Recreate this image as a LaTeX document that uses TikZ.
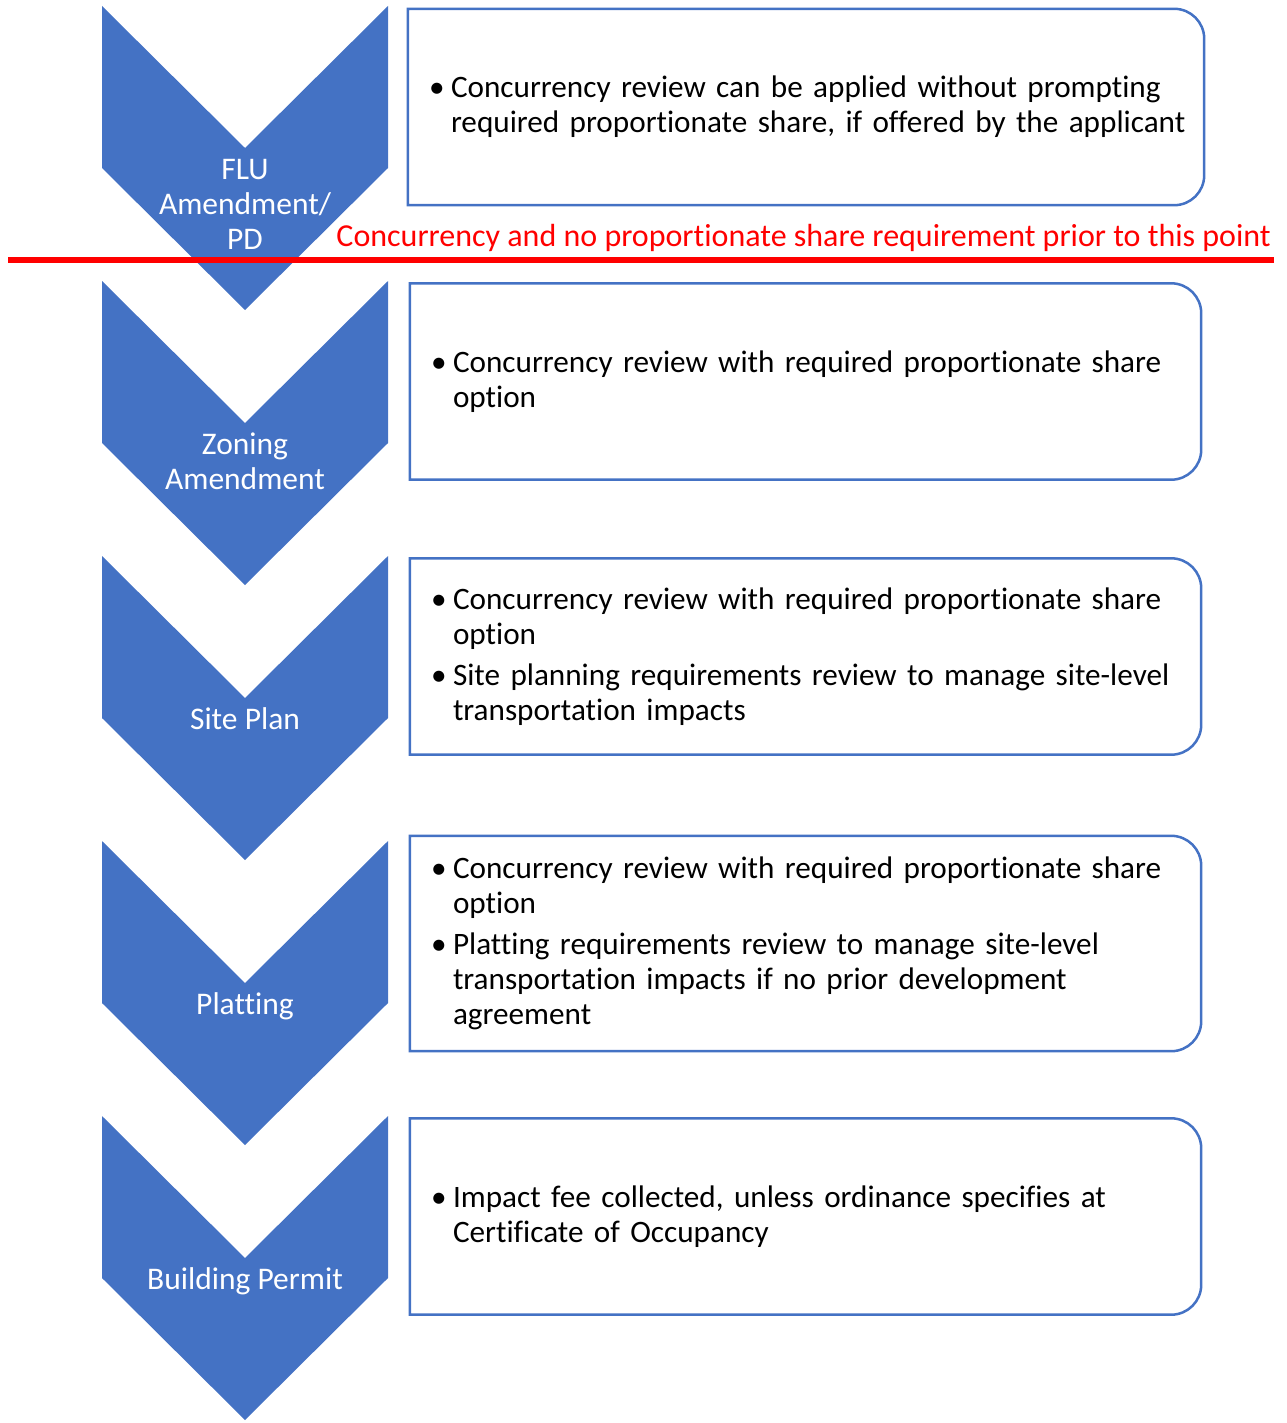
\documentclass[tikz,border=0pt]{standalone}
\usepackage{fontspec}
\setmainfont[Ligatures={NoCommon}]{Carlito}
\usepackage{tikz}
\usetikzlibrary{positioning}
\definecolor{StepBlue}{HTML}{4472C4}
\definecolor{CutRed}{HTML}{FF0000}
\newcommand{\itm}{\makebox[22pt][l]{\textbullet}}
\newcommand{\ind}{\hspace*{22pt}}

\begin{document}
\begin{tikzpicture}[
  x=1pt, y=-1pt,
  chev/.style={fill=StepBlue},
  lbl/.style={text=white, align=center, anchor=north, inner sep=0pt, font=\fontsize{31.5}{35}\selectfont},
  box/.style={text width=749pt, inner xsep=21pt, inner ysep=0pt, align=left, minimum height=196pt, font=\fontsize{31.2}{35}\selectfont},
  boxline/.style={draw=StepBlue, line width=2.5pt},
  note/.style={text=CutRed, inner sep=0pt, font=\fontsize{32}{35}\selectfont}
]
  \useasboundingbox (0,0) rectangle (1286,1423);

  % chevrons
  \fill[chev] (102,6) -- (245,148) -- (388,6) -- (388,168) -- (245,310) -- (102,168) -- cycle;
  \fill[chev] (102,281) -- (245,423) -- (388,281) -- (388,443) -- (245,585) -- (102,443) -- cycle;
  \fill[chev] (102,556) -- (245,698) -- (388,556) -- (388,718) -- (245,860) -- (102,718) -- cycle;
  \fill[chev] (102,841) -- (245,983) -- (388,841) -- (388,1003) -- (245,1145) -- (102,1003) -- cycle;
  \fill[chev] (102,1116) -- (245,1258) -- (388,1116) -- (388,1278) -- (245,1420) -- (102,1278) -- cycle;

  \node[lbl] (flu) at (245,159) {FLU\\Amendment/\\PD};
  \node[lbl] (zoning) at (245,433) {Zoning\\Amendment};
  \node[lbl] (site) at (245,707) {Site Plan};
  \node[lbl] (plat) at (245,992) {Platting};
  \node[lbl] (permit) at (245,1267) {Building Permit};

  % text boxes
  \node[box, text width=754pt] (flubox) at (806,107) {\itm Concurrency review can be applied without prompting\\
    \ind\mbox{required proportionate share, if offered by the applicant}};
  \node[box] (zonbox) at (805.5,381.5) {\itm Concurrency review with required proportionate share\\
    \ind option};
  \node[box] (sitebox) at (805.5,656.5) {\itm Concurrency review with required proportionate share\\
    \ind option\\[6pt]
    \itm Site planning requirements review to manage site-level\\
    \ind transportation impacts};
  \node[box, minimum height=215pt] (platbox) at (805.5,943.5) {\itm Concurrency review with required proportionate share\\
    \ind option\\[6pt]
    \itm Platting requirements review to manage site-level\\
    \ind transportation impacts if no prior development\\
    \ind agreement};
  \node[box] (permbox) at (805.5,1216.5) {\itm Impact fee collected, unless ordinance specifies at\\
    \ind Certificate of Occupancy};

  \draw[boxline] (flubox.north west) [rounded corners=30pt] -- (flubox.north east) -- (flubox.south east) [sharp corners] -- (flubox.south west) -- cycle;
  \draw[boxline] (zonbox.north west) [rounded corners=30pt] -- (zonbox.north east) -- (zonbox.south east) [sharp corners] -- (zonbox.south west) -- cycle;
  \draw[boxline] (sitebox.north west) [rounded corners=30pt] -- (sitebox.north east) -- (sitebox.south east) [sharp corners] -- (sitebox.south west) -- cycle;
  \draw[boxline] (platbox.north west) [rounded corners=30pt] -- (platbox.north east) -- (platbox.south east) [sharp corners] -- (platbox.south west) -- cycle;
  \draw[boxline] (permbox.north west) [rounded corners=30pt] -- (permbox.north east) -- (permbox.south east) [sharp corners] -- (permbox.south west) -- cycle;

  % cut-off line
  \node[note, anchor=base east] (cut) at (1271,247) {Concurrency and no proportionate share requirement prior to this point};
  \draw[CutRed, line width=5pt] (8,260) -- (1274,260);
\end{tikzpicture}
\end{document}
